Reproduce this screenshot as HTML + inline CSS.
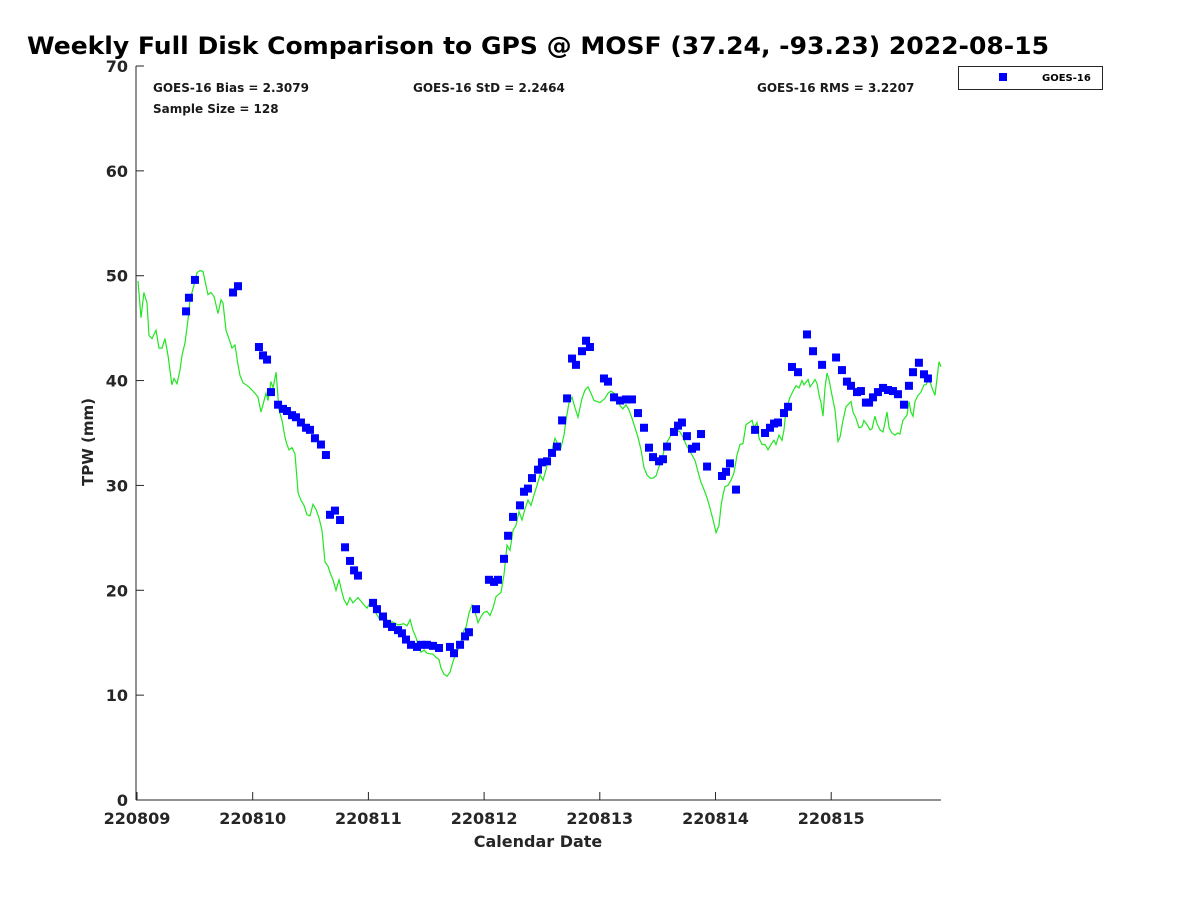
<!DOCTYPE html>
<html><head><meta charset="utf-8"><style>
body{margin:0;background:#fff;}
svg text{font-family:"DejaVu Sans","Liberation Sans",sans-serif;font-weight:bold;}
</style></head><body>
<svg id="chart" width="1200" height="900" xmlns="http://www.w3.org/2000/svg">
<rect width="1200" height="900" fill="#fff"/>
<text x="27" y="54" font-size="24" fill="#000" textLength="1022" lengthAdjust="spacingAndGlyphs">Weekly Full Disk Comparison to GPS @ MOSF (37.24, -93.23) 2022-08-15</text>
<text x="153" y="92" font-size="12" fill="#1a1a1a">GOES-16 Bias = 2.3079</text>
<text x="153" y="113" font-size="12" fill="#1a1a1a">Sample Size = 128</text>
<text x="413" y="92" font-size="12" fill="#1a1a1a">GOES-16 StD = 2.2464</text>
<text x="757" y="92" font-size="12" fill="#1a1a1a">GOES-16 RMS = 3.2207</text>
<g>
<rect x="958.5" y="66.5" width="144" height="23" fill="#fff" stroke="#262626" stroke-width="1"/>
<rect x="999" y="73" width="8" height="8" fill="#0000ff"/>
<text x="1042" y="81" font-size="10" fill="#000">GOES-16</text>
</g>
<g id="axes"></g>
<g id="series"></g>
<text x="538" y="847" font-size="16" fill="#262626" text-anchor="middle">Calendar Date</text>
<text transform="translate(93,442) rotate(-90)" font-size="15" fill="#262626" text-anchor="middle">TPW (mm)</text>
</svg>
<script>
const xTickLabels=["220809","220810","220811","220812","220813","220814","220815"];
const yTicks=[0,10,20,30,40,50,60,70];
const gpsTime=[.009,.035,.060,.086,.104,.130,.164,.190,.216,.242,.268,.302,.320,.346,.372,.389,.415,.441,.458,.493,.519,.545,.571,.588,.614,.640,.666,.700,.726,.743,.769,.804,.821,.847,.873,.890,.916,.968,1.020,1.046,1.072,1.089,1.115,1.132,1.158,1.176,1.202,1.227,1.253,1.279,1.296,1.314,1.340,1.366,1.392,1.417,1.443,1.469,1.495,1.521,1.547,1.573,1.599,1.625,1.651,1.668,1.694,1.720,1.746,1.772,1.789,1.815,1.841,1.867,1.910,1.962,1.988,2.014,2.040,2.057,2.083,2.100,2.126,2.152,2.178,2.204,2.256,2.308,2.334,2.360,2.385,2.411,2.429,2.455,2.481,2.506,2.558,2.584,2.610,2.627,2.653,2.679,2.705,2.731,2.757,2.783,2.800,2.826,2.844,2.869,2.895,2.921,2.947,2.973,2.999,3.025,3.051,3.077,3.103,3.146,3.172,3.198,3.224,3.250,3.276,3.302,3.328,3.354,3.379,3.405,3.431,3.457,3.483,3.509,3.535,3.561,3.587,3.613,3.639,3.665,3.691,3.708,3.734,3.760,3.786,3.812,3.829,3.846,3.872,3.898,3.924,3.950,4.002,4.045,4.071,4.097,4.149,4.175,4.200,4.226,4.252,4.278,4.304,4.330,4.356,4.382,4.408,4.434,4.460,4.486,4.512,4.538,4.564,4.590,4.615,4.641,4.667,4.693,4.719,4.745,4.771,4.797,4.823,4.849,4.875,4.901,4.927,4.953,4.979,5.005,5.030,5.048,5.065,5.082,5.108,5.134,5.160,5.186,5.212,5.238,5.264,5.290,5.316,5.333,5.359,5.376,5.402,5.428,5.454,5.480,5.506,5.523,5.549,5.575,5.592,5.609,5.644,5.670,5.696,5.722,5.748,5.765,5.800,5.817,5.843,5.860,5.878,5.895,5.912,5.929,5.946,5.964,5.981,6.007,6.033,6.059,6.076,6.102,6.128,6.154,6.171,6.188,6.214,6.240,6.266,6.283,6.309,6.335,6.353,6.378,6.396,6.422,6.448,6.465,6.482,6.500,6.525,6.551,6.577,6.594,6.620,6.655,6.672,6.689,6.707,6.724,6.750,6.776,6.802,6.819,6.845,6.871,6.897,6.914,6.932,6.949];
const gpsTPW=[49.5,46.0,48.4,47.4,44.3,44.0,44.8,43.1,43.1,44.0,42.4,39.6,40.2,39.7,41.0,42.4,43.6,45.8,47.7,49.1,50.3,50.5,50.4,49.5,48.2,48.4,48.0,46.4,47.7,47.4,44.8,43.7,43.1,43.4,41.5,40.5,39.8,39.4,38.8,38.4,37.0,37.7,38.8,38.1,39.9,39.3,40.8,37.2,36.2,34.6,33.9,33.4,33.6,33.0,29.3,28.6,28.1,27.2,27.1,28.2,27.7,26.9,25.7,22.7,22.3,21.7,21.0,20.0,21.0,19.8,19.1,18.6,19.3,18.8,19.3,18.6,18.3,18.8,19.1,18.0,17.5,17.2,17.2,17.4,16.6,17.0,16.7,16.8,16.6,17.2,16.2,15.5,14.8,14.1,14.3,14.0,13.9,13.6,13.4,12.6,12.0,11.8,12.2,13.2,14.0,14.5,15.1,16.2,16.5,17.8,18.6,18.0,16.9,17.5,17.9,18.0,17.6,18.3,19.4,19.8,21.5,24.3,23.8,25.7,26.2,27.5,26.7,27.8,28.6,28.1,29.1,30.0,31.0,30.5,31.5,32.9,33.4,34.5,33.9,33.6,34.8,36.2,37.9,38.4,37.4,36.5,37.4,38.3,39.1,39.4,38.8,38.1,37.9,38.3,38.8,39.0,38.6,37.6,37.3,37.7,37.2,36.4,35.5,34.6,33.4,31.7,31.0,30.7,30.7,30.9,31.8,32.5,33.8,34.3,34.8,35.0,35.3,35.1,34.6,33.9,33.4,32.9,32.4,31.3,30.3,29.6,28.8,27.8,26.7,25.5,26.2,28.1,29.1,29.9,30.0,30.5,31.2,32.9,33.9,34.0,35.8,36.0,36.2,35.5,36.0,34.5,33.9,33.9,33.4,33.9,34.3,33.9,34.8,34.3,35.3,37.2,38.4,39.0,39.5,39.3,40.0,39.6,40.1,39.4,39.8,40.1,39.7,38.6,37.9,36.6,39.3,40.7,40.1,38.6,37.2,34.2,34.6,36.2,37.5,37.8,38.0,37.0,36.4,35.5,35.6,36.2,35.8,35.3,35.4,36.6,35.9,35.3,35.1,36.0,37.0,35.5,35.0,34.8,35.0,34.9,36.2,36.7,38.0,37.0,36.6,38.0,38.6,38.9,39.6,39.6,40.2,39.3,38.6,40.1,41.8,41.3];
const goesTime=[.424,.449,.501,.830,.873,1.054,1.089,1.124,1.158,1.219,1.262,1.296,1.340,1.374,1.417,1.461,1.495,1.538,1.590,1.633,1.668,1.711,1.755,1.798,1.841,1.876,1.910,2.040,2.074,2.126,2.161,2.204,2.256,2.290,2.325,2.368,2.420,2.455,2.506,2.558,2.610,2.705,2.740,2.792,2.835,2.869,2.930,3.042,3.086,3.120,3.172,3.207,3.250,3.310,3.345,3.379,3.414,3.466,3.500,3.544,3.587,3.630,3.674,3.717,3.760,3.794,3.846,3.881,3.915,4.036,4.071,4.123,4.175,4.226,4.278,4.330,4.382,4.425,4.460,4.512,4.546,4.581,4.641,4.676,4.710,4.753,4.797,4.832,4.875,4.927,5.056,5.091,5.125,5.177,5.342,5.428,5.471,5.506,5.540,5.592,5.627,5.661,5.713,5.791,5.843,5.921,6.042,6.093,6.136,6.171,6.223,6.257,6.300,6.327,6.361,6.404,6.448,6.491,6.534,6.577,6.629,6.672,6.707,6.758,6.802,6.836];
const goesTPW=[46.6,47.9,49.6,48.4,49.0,43.2,42.4,42.0,38.9,37.7,37.3,37.1,36.7,36.5,36.0,35.5,35.3,34.5,33.9,32.9,27.2,27.6,26.7,24.1,22.8,21.9,21.4,18.8,18.2,17.5,16.8,16.5,16.2,15.9,15.3,14.8,14.6,14.8,14.8,14.7,14.5,14.6,14.0,14.8,15.6,16.0,18.2,21.0,20.8,21.0,23.0,25.2,27.0,28.1,29.4,29.7,30.7,31.5,32.2,32.3,33.1,33.7,36.2,38.3,42.1,41.5,42.8,43.8,43.2,40.2,39.9,38.4,38.1,38.2,38.2,36.9,35.5,33.6,32.7,32.3,32.5,33.7,35.1,35.7,36.0,34.7,33.5,33.7,34.9,31.8,30.9,31.3,32.1,29.6,35.3,35.0,35.5,35.9,36.0,36.9,37.5,41.3,40.8,44.4,42.8,41.5,42.2,41.0,39.9,39.5,38.9,39.0,37.9,37.9,38.4,38.9,39.3,39.1,39.0,38.7,37.7,39.5,40.8,41.7,40.6,40.2];

const NS='http://www.w3.org/2000/svg';
const L=136,R=941,T=66,B=800,X0=137,DAYPX=115.7;
function xs(t){return X0+t*DAYPX;}
function ys(v){return B-v*(B-T)/70;}
function mk(tag,attrs,parent){const e=document.createElementNS(NS,tag);for(const k in attrs)e.setAttribute(k,attrs[k]);parent.appendChild(e);return e;}
const axes=document.getElementById('axes');
const series=document.getElementById('series');
let e=mk('line',{x1:L,y1:T,x2:L,y2:B,stroke:'#262626','stroke-width':1},axes);


e=mk('line',{x1:L,y1:B,x2:R,y2:B,stroke:'#262626','stroke-width':1},axes);


yTicks.forEach(v=>{
 const y=ys(v);
 const t=mk('line',{x1:L,y1:y,x2:L+8,y2:y,stroke:'#262626'},axes);
 
 
 const tx=mk('text',{x:L-8,y:y+6,'font-size':16,fill:'#262626','text-anchor':'end'},axes);
 tx.textContent=v;
 
 
});
xTickLabels.forEach((lab,i)=>{
 const x=xs(i);
 const t=mk('line',{x1:x,y1:B,x2:x,y2:B-8,stroke:'#262626'},axes);
 
 
 const tx=mk('text',{x:x,y:B+24,'font-size':16,fill:'#262626','text-anchor':'middle'},axes);
 tx.textContent=lab;
 
 
});
const pts=gpsTime.map((t,i)=>xs(t).toFixed(1)+','+ys(gpsTPW[i]).toFixed(1)).join(' ');
const pl=mk('polyline',{points:pts,fill:'none',stroke:'#22e622','stroke-width':1.2},series);


goesTime.forEach((t,i)=>{
 const r=mk('rect',{x:xs(t)-4,y:ys(goesTPW[i])-4,width:8,height:8,fill:'#0000ff'},series);
 
 
});
</script>
</body></html>
